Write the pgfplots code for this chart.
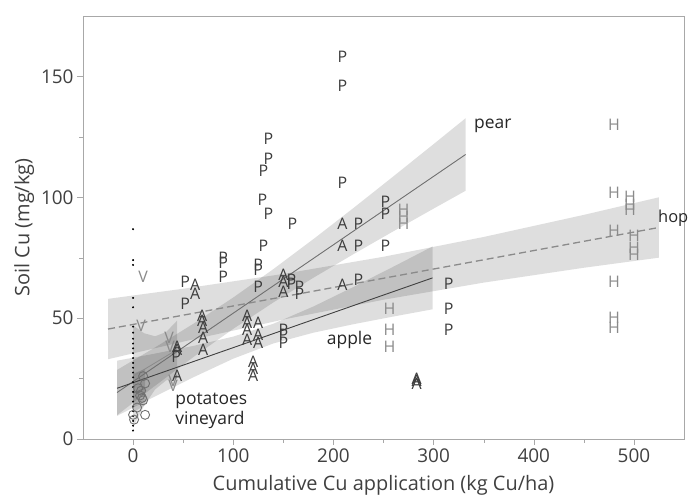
\documentclass[border=0pt]{standalone}
\usepackage{fontspec}
\setmainfont{Open Sans}
\usepackage{pgfplots}
\pgfplotsset{compat=1.18}

\definecolor{framegray}{HTML}{A8A8A8}
\definecolor{labgray}{HTML}{404040}
\definecolor{darkmark}{HTML}{3C3C3C}
\definecolor{lightmark}{HTML}{8A8A8A}
\definecolor{circgray}{HTML}{707070}

\pgfplotsset{
  letter/.style 2 args={only marks, mark=text, text mark={#1}, text mark as node=true,
    color=#2, text mark style={font=\fontsize{16}{16}\selectfont, text=#2, inner sep=0pt}},
  band/.style={draw=none, fill=black, fill opacity=0.13, forget plot},
}

\begin{document}
\begin{tikzpicture}
\begin{axis}[
  scale only axis, width=601bp, height=423bp,
  xmin=-50, xmax=550, ymin=0, ymax=175,
  clip=false,
  axis line style={framegray},
  xtick={0,100,...,500}, ytick={0,50,100,150},
  minor x tick num=1, minor y tick num=1,
  tick align=outside, xtick pos=bottom, ytick pos=left,
  major tick length=6bp, minor tick length=3.5bp,
  tick style={framegray},
  /pgf/number format/assume math mode=true,
  ticklabel style={font=\fontsize{19}{19}\selectfont, text=labgray},
  xlabel={Cumulative Cu application (kg Cu/ha)},
  ylabel={Soil Cu (mg/kg)},
  label style={font=\fontsize{20}{20}\selectfont, text=labgray},
  xlabel style={at={(axis description cs:0.5,-0.1229)}, anchor=base},
  ylabel style={at={(axis description cs:-0.098,0.5)}, anchor=center, rotate=0},
]
% confidence bands
\addplot[band] coordinates {(-25,57.98) (50,62.16) (150,68.30) (250,75.39) (350,83.58) (450,92.72) (525,100.0)
  (525,75.02) (450,70.84) (350,64.70) (250,57.61) (150,49.42) (50,40.28) (-25,33.0)} --cycle;
\addplot[band] coordinates {(-16,28.59) (20,37.40) (60,47.62) (100,58.54) (140,70.26) (180,82.68) (220,95.55) (260,108.69) (300,121.99) (332,132.71)
  (332,102.71) (300,95.31) (260,85.97) (220,76.47) (180,66.70) (140,56.48) (100,45.56) (60,33.84) (20,21.42) (-16,9.85)} --cycle;
\addplot[band] coordinates {(-16,32.39) (20,35.19) (60,38.50) (100,42.36) (140,47.67) (180,54.82) (220,62.91) (260,71.32) (299,79.66)
  (299,53.66) (260,50.68) (220,47.49) (180,43.98) (140,39.53) (100,33.24) (60,25.50) (20,17.21) (-16,9.57)} --cycle;
\addplot[band] coordinates {(0,47) (11,43.75) (22,42.5) (33,44.25) (44,49) (44,25) (33,24.25) (22,20.5) (11,13.75) (0,5)} --cycle;
\addplot[band] coordinates {(0,27) (12,29) (12,14) (0,11)} --cycle;

% fit lines
\addplot[color=lightmark, line width=1.3bp, dash pattern=on 7bp off 4bp] coordinates {(-25,45.49) (525,87.51)};
\addplot[color=circgray, line width=0.9bp] coordinates {(-16,19.22) (332,117.71)};
\addplot[color=labgray, line width=0.9bp] coordinates {(-16,20.98) (299,66.66)};
\addplot[color=lightmark, line width=0.8bp] coordinates {(0,26) (44,37)};
\addplot[color=circgray, line width=0.8bp] coordinates {(0,19) (12,21)};

% small dots at zero application
\addplot[only marks, mark=*, mark size=0.8bp, color=black] coordinates {
  (0,3.5) (0,5.5) (0,7.5) (0,9.5) (0,11.5) (0,13.5) (0,15.5) (0,17.5) (0,19.5) (0,21.5)
  (0,23.5) (0,25.5) (0,27.5) (0,29.5) (0,31.5) (0,33.5) (0,35.5) (0,37.5) (0,39.5) (0,41.5)
  (0,44) (0,46.5) (0,54.5) (0,58.4) (0,72) (0,74) (0,86.8)};

% potatoes
\addplot[only marks, mark=o, mark size=4.5bp, color=circgray, line width=0.9bp] coordinates {
  (10,26) (12,23) (5,21) (8,20) (7,18) (9,17) (10,16) (0,10) (12,10) (1,8) (4,13)};

% vineyard
\addplot[letter={V}{lightmark}] coordinates {(10,67) (8,47) (36,42) (37,38) (40,24) (40,22)};

% hop
\addplot[letter={H}{lightmark}] coordinates {
  (480,130) (480,102) (496,100) (496,97) (496,95) (480,86) (500,84) (500,79) (500,76)
  (480,65) (480,50) (480,46) (270,95) (270,92) (270,89) (256,54) (256,45) (256,38)};

% apple
\addplot[letter={A}{darkmark}] coordinates {
  (62,64) (62,60) (69,51) (69,49) (70,46) (70,42) (70,37) (44,38) (44,37) (44,26)
  (114,51) (114,48) (114,45) (114,41) (125,48) (125,43) (125,40) (120,32) (120,29) (120,26)
  (150,68) (150,65) (150,61) (209,89) (209,80) (209,64) (283,25) (283,24) (283,23)};

% pear
\addplot[letter={P}{darkmark}] coordinates {
  (209,158) (209,146) (209,106) (135,124) (135,116) (130,111) (129,99) (135,93) (159,89) (130,80)
  (90,75) (90,73) (90,67) (125,72) (125,70) (125,63) (158,66) (158,64) (166,63) (166,60)
  (150,45) (150,43) (150,40) (52,65) (52,56) (43,34) (225,89) (225,80) (252,98) (252,93)
  (252,80) (225,66) (315,64) (315,54) (315,45)};

% group labels
\begin{scope}[font=\fontsize{17.5}{17.5}\selectfont, text=black!85]
\node[anchor=base west] at (axis cs:337,128.6) {pear};
\node[anchor=base west, inner sep=0pt, font=\fontsize{16.5}{16.5}\selectfont] at (axis cs:524,89.4) {hop};
\node[anchor=base west] at (axis cs:190,39.1) {apple};
\node[anchor=base west] at (axis cs:38.7,14.3) {potatoes};
\node[anchor=base west] at (axis cs:38.7,5.8) {vineyard};
\end{scope}
\end{axis}
\pgfresetboundingbox
\path ([shift={(-83bp,-58bp)}]current axis.south west) rectangle ([shift={(6bp,16bp)}]current axis.north east);
\end{tikzpicture}
\end{document}
